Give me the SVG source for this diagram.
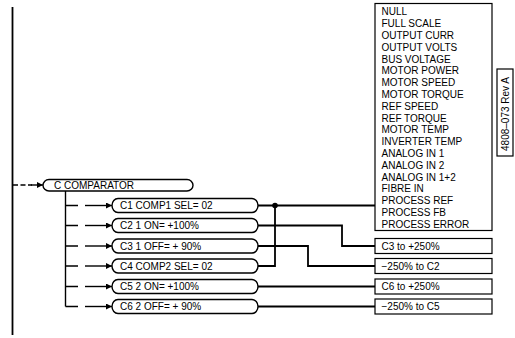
<svg xmlns="http://www.w3.org/2000/svg" width="515" height="338" viewBox="0 0 515 338">
<defs>
<marker id="ah" viewBox="0 0 10 10" refX="10" refY="5" markerWidth="8" markerHeight="6" markerUnits="userSpaceOnUse" orient="auto"><path d="M0,0 L10,5 L0,10 z" fill="#000"/></marker>
</defs>
<style>
text{font-family:"Liberation Sans",Arial,sans-serif;font-size:10px;fill:#000}
.box{fill:#fff;stroke:#000;stroke-width:1.2}
.pill{fill:#fff;stroke:#000;stroke-width:1.4}
.ln{fill:none;stroke:#000;stroke-width:1.8}
.th{fill:none;stroke:#000;stroke-width:1.4}
</style>
<g id="connectors">
<line class="ln" x1="12.5" y1="7" x2="12.5" y2="335"/>
<line class="th" x1="13" y1="185" x2="32" y2="185" stroke-dasharray="5,2.5"/>
<line class="th" x1="31" y1="185" x2="43" y2="185" marker-end="url(#ah)"/>
<line class="th" x1="65.5" y1="191" x2="65.5" y2="306.5"/>
<path class="th" d="M65.5,205.5 H78 M65.5,225.5 H78 M65.5,246 H78 M65.5,266 H78 M65.5,286.5 H78 M65.5,306.5 H78"/>
<line class="th" x1="85" y1="205.5" x2="112" y2="205.5" marker-end="url(#ah)"/>
<line class="th" x1="85" y1="225.5" x2="112" y2="225.5" marker-end="url(#ah)"/>
<line class="th" x1="85" y1="246" x2="112" y2="246" marker-end="url(#ah)"/>
<line class="th" x1="85" y1="266" x2="112" y2="266" marker-end="url(#ah)"/>
<line class="th" x1="85" y1="286.5" x2="112" y2="286.5" marker-end="url(#ah)"/>
<line class="th" x1="85" y1="306.5" x2="112" y2="306.5" marker-end="url(#ah)"/>
<path class="ln" d="M258,205.5 H375"/>
<circle cx="275" cy="205.5" r="2.8" fill="#000"/>
<path class="ln" d="M258,266 H275 V205.5"/>
<path class="ln" d="M258,225.5 H342 V246 H375"/>
<path class="ln" d="M258,246 H308 V266 H375"/>
<path class="ln" d="M258,286.5 H375"/>
<path class="ln" d="M258,306.5 H375"/>
</g>
<g id="c-comparator">
<rect class="pill" x="43" y="179.5" width="150" height="11.5" rx="6" ry="5.75"/>
<text x="54" y="189">C COMPARATOR</text>
</g>
<g id="c1">
<rect class="pill" x="112" y="198.5" width="146" height="14" rx="6" ry="7"/>
<text x="120" y="209.1">C1 COMP1 SEL= 02</text>
</g>
<g id="c2">
<rect class="pill" x="112" y="218.5" width="146" height="14" rx="6" ry="7"/>
<text x="120" y="229.1">C2 1 ON= +100%</text>
</g>
<g id="c3">
<rect class="pill" x="112" y="239" width="146" height="14" rx="6" ry="7"/>
<text x="120" y="249.6">C3 1 OFF= + 90%</text>
</g>
<g id="c4">
<rect class="pill" x="112" y="259" width="146" height="14" rx="6" ry="7"/>
<text x="120" y="269.6">C4 COMP2 SEL= 02</text>
</g>
<g id="c5">
<rect class="pill" x="112" y="279.5" width="146" height="14" rx="6" ry="7"/>
<text x="120" y="290.1">C5 2 ON= +100%</text>
</g>
<g id="c6">
<rect class="pill" x="112" y="299.5" width="146" height="14" rx="6" ry="7"/>
<text x="120" y="310.1">C6 2 OFF= + 90%</text>
</g>
<g id="source-list">
<rect class="box" x="375" y="3.5" width="117" height="227"/>
<text x="381.5" y="15.3">NULL</text>
<text x="381.5" y="27.1">FULL SCALE</text>
<text x="381.5" y="38.9">OUTPUT CURR</text>
<text x="381.5" y="50.7">OUTPUT VOLTS</text>
<text x="381.5" y="62.5">BUS VOLTAGE</text>
<text x="381.5" y="74.3">MOTOR POWER</text>
<text x="381.5" y="86.1">MOTOR SPEED</text>
<text x="381.5" y="97.9">MOTOR TORQUE</text>
<text x="381.5" y="109.7">REF SPEED</text>
<text x="381.5" y="121.5">REF TORQUE</text>
<text x="381.5" y="133.3">MOTOR TEMP</text>
<text x="381.5" y="145.1">INVERTER TEMP</text>
<text x="381.5" y="156.9">ANALOG IN 1</text>
<text x="381.5" y="168.7">ANALOG IN 2</text>
<text x="381.5" y="180.5">ANALOG IN 1+2</text>
<text x="381.5" y="192.3">FIBRE IN</text>
<text x="381.5" y="204.1">PROCESS REF</text>
<text x="381.5" y="215.9">PROCESS FB</text>
<text x="381.5" y="227.7">PROCESS ERROR</text>
</g>
<g id="r-c3">
<rect class="box" x="375" y="238.5" width="117" height="15"/>
<text x="381.5" y="249.6">C3 to +250%</text>
</g>
<g id="r-c2">
<rect class="box" x="375" y="258.5" width="117" height="15"/>
<text x="381.5" y="269.6">−250% to C2</text>
</g>
<g id="r-c6">
<rect class="box" x="375" y="279" width="117" height="15"/>
<text x="381.5" y="290.1">C6 to +250%</text>
</g>
<g id="r-c5">
<rect class="box" x="375" y="299" width="117" height="15"/>
<text x="381.5" y="310.1">−250% to C5</text>
</g>
<g id="label">
<rect class="box" x="497" y="69" width="16" height="87"/>
<text transform="translate(508.6,114) rotate(-90)" text-anchor="middle">4808–073 Rev A</text>
</g>
</svg>
